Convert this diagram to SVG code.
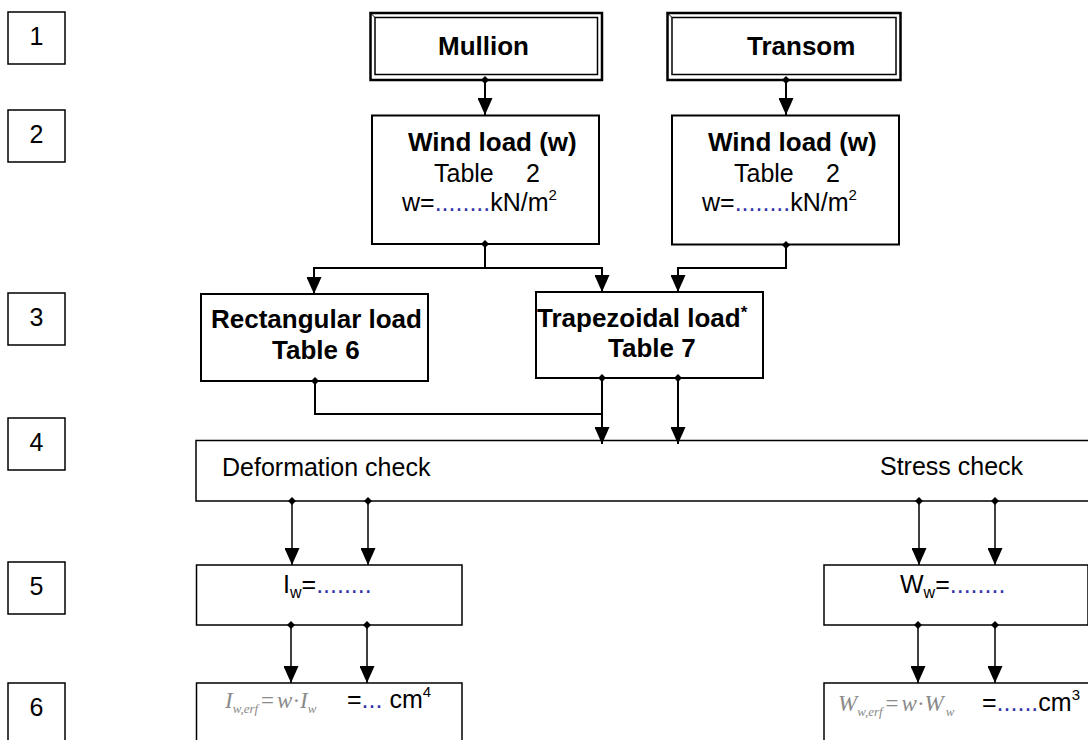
<svg xmlns="http://www.w3.org/2000/svg" width="1088" height="740" viewBox="0 0 1088 740">
<style>
.bx{fill:#fff;stroke:#000;stroke-width:2}
.bx2{fill:#fff;stroke:#000;stroke-width:1.5}
.t{font-family:"Liberation Sans",Arial,sans-serif;font-size:25px;fill:#000}
.b{font-family:"Liberation Sans",Arial,sans-serif;font-size:26px;font-weight:bold;fill:#000}
.dot{fill:#3333aa}
.m{font-family:"Liberation Serif","Times New Roman",serif;font-style:italic;font-size:23px;fill:#8a8a8a}
.mr{font-style:normal}
.c{fill:none;stroke:#000;stroke-width:2}
.c2{fill:none;stroke:#000;stroke-width:1.5}
</style>
<defs>
<marker id="ah" markerUnits="userSpaceOnUse" markerWidth="17" markerHeight="15" viewBox="0 0 17 15" refX="17" refY="7.5" orient="auto"><path d="M0,0 L17,7.5 L0,15 Z" fill="#000"/></marker>
<marker id="dm" markerUnits="userSpaceOnUse" markerWidth="8" markerHeight="8" viewBox="0 0 8 8" refX="4" refY="4" orient="auto"><path d="M4,0 L8,4 L4,8 L0,4 Z" fill="#000"/></marker>
</defs>
<rect width="1088" height="740" fill="#fff"/>

<g id="num1"><rect class="bx2" x="8" y="12" width="57" height="52"/><text class="t" x="36.5" y="45" text-anchor="middle">1</text></g>
<g id="num2"><rect class="bx2" x="8" y="110" width="57" height="52"/><text class="t" x="36.5" y="143" text-anchor="middle">2</text></g>
<g id="num3"><rect class="bx2" x="8" y="293" width="57" height="52"/><text class="t" x="36.5" y="326" text-anchor="middle">3</text></g>
<g id="num4"><rect class="bx2" x="8" y="418" width="57" height="52"/><text class="t" x="36.5" y="451" text-anchor="middle">4</text></g>
<g id="num5"><rect class="bx2" x="8" y="562" width="57" height="52"/><text class="t" x="36.5" y="595" text-anchor="middle">5</text></g>
<g id="num6"><rect class="bx2" x="8" y="683" width="57" height="70"/><text class="t" x="36.5" y="716" text-anchor="middle">6</text></g>

<g id="mullion"><rect x="370.5" y="13" width="231.5" height="67" fill="#fff" stroke="#000" stroke-width="2.5"/><rect x="375" y="17.5" width="222.5" height="57" fill="none" stroke="#000" stroke-width="1.5"/><path d="M370.5,13 L375,17.5" stroke="#000" stroke-width="1"/><text class="b" x="438" y="55">Mullion</text></g>
<g id="transom"><rect x="667.5" y="13" width="233" height="67" fill="#fff" stroke="#000" stroke-width="2.5"/><rect x="672" y="17.5" width="224" height="57" fill="none" stroke="#000" stroke-width="1.5"/><path d="M667.5,13 L672,17.5" stroke="#000" stroke-width="1"/><text class="b" x="747" y="55">Transom</text></g>

<g id="wind1"><rect class="bx" x="372" y="115.5" width="227" height="128.5"/>
<text class="b" x="408" y="151">Wind load (w)</text>
<text class="t" x="434" y="182">Table</text><text class="t" x="526" y="182">2</text>
<text class="t" x="402" y="211">w=<tspan class="dot">........</tspan>kN/m<tspan font-size="15" dy="-11">2</tspan></text></g>
<g id="wind2"><rect class="bx" x="672" y="115.5" width="227" height="129"/>
<text class="b" x="708" y="151">Wind load (w)</text>
<text class="t" x="734" y="182">Table</text><text class="t" x="826" y="182">2</text>
<text class="t" x="702" y="211">w=<tspan class="dot">........</tspan>kN/m<tspan font-size="15" dy="-11">2</tspan></text></g>

<g id="rect"><rect class="bx" x="201" y="294" width="227" height="87"/>
<text class="b" x="211" y="328">Rectangular load</text><text class="b" x="272" y="359">Table 6</text></g>
<g id="trap"><rect class="bx" x="536" y="292" width="227" height="86"/>
<text class="b" x="537" y="327">Trapezoidal load<tspan font-size="17" dy="-9">*</tspan></text><text class="b" x="608" y="357">Table 7</text></g>

<g id="checks"><rect class="bx2" x="196" y="440.5" width="893" height="60.5"/>
<text class="t" x="222" y="476">Deformation check</text><text class="t" x="880" y="475">Stress check</text></g>

<g id="iw"><rect class="bx2" x="196.5" y="565" width="265.5" height="60"/>
<text class="t" x="283" y="593">I<tspan font-size="16" dy="5">w</tspan><tspan dy="-5">=</tspan><tspan class="dot">........</tspan></text></g>
<g id="ww"><rect class="bx2" x="824" y="565" width="264" height="60"/>
<text class="t" x="900" y="593">W<tspan font-size="16" dy="5">w</tspan><tspan dy="-5">=</tspan><tspan class="dot">........</tspan></text></g>

<g id="iwerf"><rect class="bx2" x="196.5" y="683" width="265.5" height="70"/>
<text class="m" x="225" y="708">I<tspan font-size="13" dy="5">w,erf</tspan><tspan class="mr" dx="3" dy="-5">=</tspan><tspan dx="3">w</tspan><tspan class="mr">·</tspan>I<tspan font-size="13" dy="5">w</tspan></text>
<text class="t" x="347" y="708">=<tspan class="dot">...</tspan> cm<tspan font-size="15" dy="-11">4</tspan></text></g>
<g id="wwerf"><rect class="bx2" x="824" y="683" width="266" height="70"/>
<text class="m" x="838" y="711">W<tspan font-size="13" dy="5">w,erf</tspan><tspan class="mr" dx="3" dy="-5">=</tspan><tspan dx="3">w</tspan><tspan class="mr">·</tspan>W<tspan font-size="13" dy="5" dx="2">w</tspan></text>
<text class="t" x="982" y="711">=<tspan class="dot">......</tspan>cm<tspan font-size="15" dy="-11">3</tspan></text></g>

<g id="connectors">
<path class="c" d="M485,80 V115" marker-start="url(#dm)" marker-end="url(#ah)"/>
<path class="c" d="M786,80 V115" marker-start="url(#dm)" marker-end="url(#ah)"/>
<path class="c" d="M485,244 V268 H314 V294" marker-start="url(#dm)" marker-end="url(#ah)"/>
<path class="c" d="M485,268 H602 V292" marker-end="url(#ah)"/>
<path class="c" d="M786,245 V268 H678 V292" marker-start="url(#dm)" marker-end="url(#ah)"/>
<path class="c" d="M315,381 V414 H602" marker-start="url(#dm)"/>
<path class="c" d="M602,378 V444" marker-start="url(#dm)" marker-end="url(#ah)"/>
<path class="c" d="M678,378 V444" marker-start="url(#dm)" marker-end="url(#ah)"/>
<path class="c2" d="M292,501 V565" marker-start="url(#dm)" marker-end="url(#ah)"/>
<path class="c2" d="M368,501 V565" marker-start="url(#dm)" marker-end="url(#ah)"/>
<path class="c2" d="M919,501 V565" marker-start="url(#dm)" marker-end="url(#ah)"/>
<path class="c2" d="M995,501 V565" marker-start="url(#dm)" marker-end="url(#ah)"/>
<path class="c2" d="M291,625 V683" marker-start="url(#dm)" marker-end="url(#ah)"/>
<path class="c2" d="M367,625 V683" marker-start="url(#dm)" marker-end="url(#ah)"/>
<path class="c2" d="M918,625 V683" marker-start="url(#dm)" marker-end="url(#ah)"/>
<path class="c2" d="M995,625 V683" marker-start="url(#dm)" marker-end="url(#ah)"/>
</g>
</svg>
